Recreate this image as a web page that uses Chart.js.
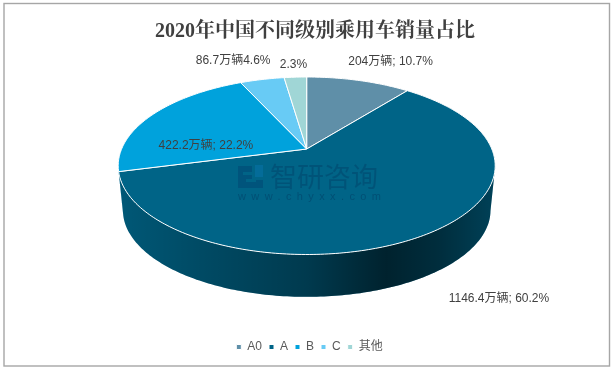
<!DOCTYPE html>
<html>
<head>
<meta charset="utf-8">
<style>
    html, body { margin: 0; padding: 0; background: #fff; overflow: hidden; }
    #wrap { width: 616px; height: 368px; position: relative; }
</style>
<script src="https://cdn.jsdelivr.net/npm/chart.js@4"></script>
</head>
<body>
<div id="wrap"><canvas id="chart" width="616" height="368"></canvas></div>
<script>
// Data
const chartTitle = '2020年中国不同级别乘用车销量占比';
const categories = ['A0', 'A', 'B', 'C', '其他'];
const sales = [204, 1146.4, 422.2, 86.7, 44];
const sliceLabels = ['204万辆; 10.7%', '1146.4万辆; 60.2%', '422.2万辆; 22.2%', '86.7万辆4.6%', '2.3%'];
const sliceColors = ['#5f8fa8', '#006487', '#00a2dc', '#68cbf5', '#a0d6d6'];

// Label offsets from the middle of each slice's rim
const labelOffsets = [[32, -18.5], [72.5, 64], [54, 30.5], [-29, -18.5], [-2, -12]];

const labelFont = '12px "Liberation Sans", "Noto Sans CJK SC", sans-serif';

// Perspective of the 3D pie
const PIE_CY = 149;
const PIE_TILT = 0.4624;
const PIE_PERSP = 0.1887;
const PIE_DEPTH = 45;
const BASE_SCALE = 0.975;

function project(angle, cx, cy, radius) {
    const d = 1 - PIE_PERSP * Math.sin(angle);
    return [
        cx + radius * Math.cos(angle) / d,
        cy + radius * PIE_TILT * Math.sin(angle) / d
    ];
}

function wallShade(ctx, left, right) {
    const g = ctx.createLinearGradient(left, 0, right, 0);
    g.addColorStop(0, 'rgba(0,0,0,0.12)');
    g.addColorStop(0.24, 'rgba(0,0,0,0.27)');
    g.addColorStop(0.5, 'rgba(0,0,0,0.42)');
    g.addColorStop(0.71, 'rgba(0,0,0,0.66)');
    g.addColorStop(0.85, 'rgba(0,0,0,0.55)');
    g.addColorStop(1, 'rgba(0,0,0,0.35)');
    return g;
}

class Arc3D extends Chart.ArcElement {
    draw(ctx) {
        const r = this.outerRadius;
        const steps = Math.max(4, Math.ceil((this.endAngle - this.startAngle) * 60));
        const top = [];
        const bottom = [];
        const rim = [];
        for (let i = 0; i <= steps; i++) {
            const a = this.startAngle + (this.endAngle - this.startAngle) * i / steps;
            rim.push(project(a, this.x, PIE_CY, r));
            // only the front side of the wall can be seen
            if (Math.sin(a) >= PIE_PERSP) {
                top.push(project(a, this.x, PIE_CY, r));
                bottom.push(project(a, this.x, PIE_CY + PIE_DEPTH, r * BASE_SCALE));
            }
        }

        ctx.save();
        if (top.length > 1) {
            ctx.beginPath();
            top.forEach((p, i) => i ? ctx.lineTo(p[0], p[1]) : ctx.moveTo(p[0], p[1]));
            bottom.reverse().forEach(p => ctx.lineTo(p[0], p[1]));
            ctx.closePath();
            ctx.fillStyle = this.options.backgroundColor;
            ctx.fill();
            ctx.fillStyle = wallShade(ctx, this.x - r * 1.02, this.x + r * 1.02);
            ctx.fill();
        }

        ctx.beginPath();
        ctx.moveTo(this.x, PIE_CY);
        rim.forEach(p => ctx.lineTo(p[0], p[1]));
        ctx.closePath();
        ctx.fillStyle = this.options.backgroundColor;
        ctx.fill();
        ctx.strokeStyle = this.options.borderColor;
        ctx.lineWidth = this.options.borderWidth;
        ctx.lineJoin = 'round';
        ctx.stroke();
        ctx.restore();
    }
}
Arc3D.id = 'arc3d';

class Pie3DController extends Chart.DoughnutController {}
Pie3DController.id = 'pie3d';
Pie3DController.defaults = { dataElementType: 'arc3d', cutout: 0 };

Chart.register(Arc3D, Pie3DController);

// Grey frame round the picture
const framePlugin = {
    id: 'frame',
    beforeDraw(chart) {
        const ctx = chart.ctx;
        ctx.save();
        ctx.fillStyle = '#fff';
        ctx.fillRect(0, 0, chart.width, chart.height);
        ctx.strokeStyle = '#a6a6a6';
        ctx.lineWidth = 1.4;
        ctx.strokeRect(4, 3.5, 605.5, 362.5);
        ctx.restore();
    }
};

// Title and legend sit a little right of the pie centre
const shiftPlugin = {
    id: 'shift',
    afterLayout(chart) {
        chart.titleBlock.left += 8.3;
        chart.titleBlock.right += 8.3;
        chart.legend.left += 2.8;
        chart.legend.right += 2.8;
    }
};

const watermarkPlugin = {
    id: 'watermark',
    afterDatasetsDraw(chart) {
        const ctx = chart.ctx;
        ctx.save();
        // logo
        ctx.fillStyle = 'rgba(0,50,100,0.3)';
        ctx.fillRect(238, 166, 14, 22);
        ctx.fillRect(252, 180, 11, 8);
        ctx.fillStyle = 'rgba(10,120,180,0.4)';
        ctx.fillRect(255, 165, 8, 12);
        ctx.fillStyle = '#006487';
        ctx.fillRect(243, 172, 9, 3);
        ctx.fillRect(246, 179, 10, 3);

        ctx.fillStyle = 'rgba(0,50,90,0.32)';
        ctx.textBaseline = 'middle';
        ctx.textAlign = 'left';
        ctx.font = '27px "Noto Sans CJK SC", sans-serif';
        ctx.letterSpacing = '0px';
        ctx.fillText('智研咨询', 270, 177);
        ctx.fillStyle = 'rgba(0,50,90,0.42)';
        ctx.font = '11px "Liberation Sans", sans-serif';
        ctx.letterSpacing = '5.4px';
        ctx.fillText('www.chyxx.com', 238, 197);
        ctx.restore();
    }
};

const sliceLabelPlugin = {
    id: 'sliceLabels',
    afterDatasetsDraw(chart) {
        const ctx = chart.ctx;
        const meta = chart.getDatasetMeta(0);
        ctx.save();
        ctx.font = labelFont;
        ctx.fillStyle = '#404040';
        ctx.textAlign = 'center';
        ctx.textBaseline = 'middle';
        meta.data.forEach((arc, i) => {
            const p = project((arc.startAngle + arc.endAngle) / 2, arc.x, PIE_CY, arc.outerRadius);
            ctx.fillText(sliceLabels[i], p[0] + labelOffsets[i][0], p[1] + labelOffsets[i][1]);
        });
        ctx.restore();
    }
};

new Chart(document.getElementById('chart'), {
    type: 'pie3d',
    data: {
        labels: categories,
        datasets: [{
            data: sales,
            backgroundColor: sliceColors,
            borderColor: '#ffffff',
            borderWidth: 1,
            radius: 185.1,
            clip: false
        }]
    },
    options: {
        responsive: false,
        animation: false,
        layout: { padding: { top: 0, right: 2.6, bottom: 5, left: 0 } },
        plugins: {
            tooltip: { enabled: false },
            title: {
                display: true,
                text: chartTitle,
                color: '#404040',
                font: { size: 20, weight: 'bold', family: '"Liberation Serif", "Noto Serif CJK SC", "Noto Sans CJK SC", serif' },
                padding: { top: 20, bottom: 9 }
            },
            legend: {
                position: 'bottom',
                labels: {
                    boxWidth: 5,
                    boxHeight: 5,
                    padding: 7,
                    color: '#595959',
                    font: { size: 12, family: '"Liberation Sans", "Noto Sans CJK SC", sans-serif' }
                }
            }
        }
    },
    plugins: [framePlugin, shiftPlugin, watermarkPlugin, sliceLabelPlugin]
});
</script>
</body>
</html>
